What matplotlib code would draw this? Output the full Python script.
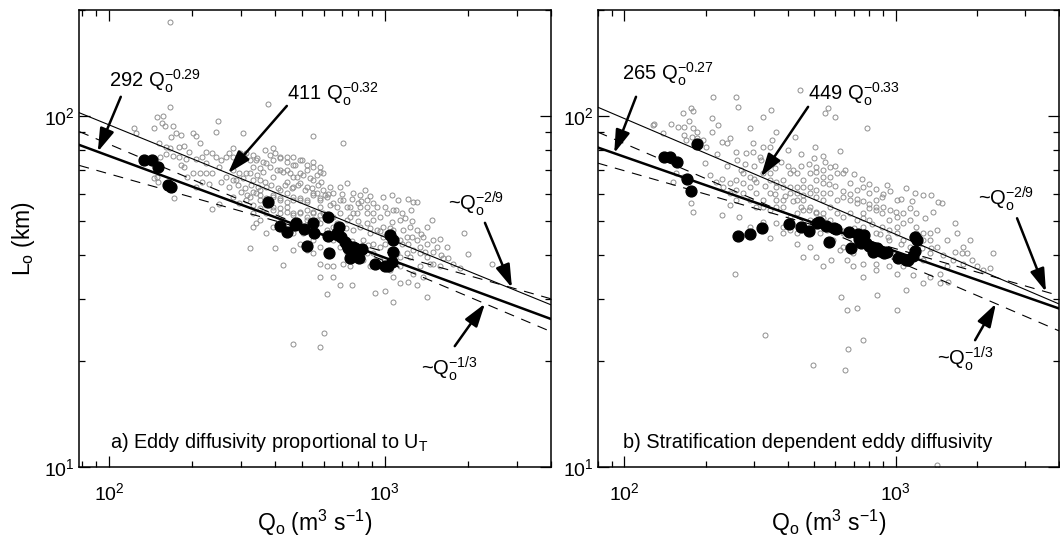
"""
Two log-log panels: eddy length scale L_o against discharge Q_o,
model runs (open grey circles) and observations (black dots),
with fitted power laws and the ~Q^-2/9, ~Q^-1/3 reference slopes.
"""
import numpy as np
import matplotlib
matplotlib.use("Agg")
import matplotlib.pyplot as plt
from matplotlib.ticker import LogLocator, NullFormatter

plt.rcParams["font.family"] = ["Liberation Sans", "DejaVu Sans"]
plt.rcParams["mathtext.fontset"] = "custom"
plt.rcParams["mathtext.rm"] = "Liberation Sans"
plt.rcParams["mathtext.it"] = "Liberation Sans:italic"
plt.rcParams["mathtext.bf"] = "Liberation Sans:bold"

# ----------------------------- data (Q in m3/s, L in km) -----------------------------
model_a = [
    (166, 185), (377, 108), (123, 92), (125, 89), (145, 92), (149, 99), (157, 100), (166, 106),
    (156, 95.5), (159, 93.5), (170, 93.5), (175, 89), (182, 88), (168, 87), (152, 83.4), (161, 81.6),
    (166, 80.7), (180, 81.6), (187, 82), (195, 78.9), (201, 89), (207, 87.5), (213, 83.4), (224, 78.9),
    (237, 78.5), (248, 96.8), (245, 90), (306, 89.4), (282, 80.7), (273, 78.1), (265, 76.4), (255, 74.7),
    (218, 76.4), (207, 75.5), (190, 75.5), (180, 76.4), (170, 76.8), (161, 77.7), (153, 76.4), (149, 67),
    (145, 66.3), (151, 64.9), (172, 58.4), (237, 54.1), (251, 56), (213, 68.5), (224, 68.5), (237, 68.5),
    (201, 68.8), (187, 71.6), (182, 72.3), (192, 67), (207, 62.8), (218, 64.9), (231, 64), (255, 64.9),
    (265, 67), (282, 70), (273, 62.8), (289, 65.6), (301, 60.8), (314, 68.5), (333, 77.2), (342, 74.7),
    (367, 79.8), (393, 80.7), (372, 73.1), (352, 70.8), (333, 65.6), (324, 58.8), (342, 60.1), (372, 62.8),
    (393, 67), (416, 70), (440, 76.4), (465, 76.4), (471, 72.3), (499, 74.7), (492, 68.5), (520, 70),
    (550, 71.6), (581, 69.3), (589, 64.9), (550, 65.6), (520, 62.8), (465, 62.8), (440, 64.9), (416, 61.4),
    (393, 58.8), (372, 56.3), (352, 57.5), (333, 52.8), (342, 49.4), (372, 46.4), (324, 42.1), (398, 42.1),
    (428, 37.5), (465, 46.2), (492, 52.8), (520, 57.5), (565, 60.1), (598, 61.4), (632, 62.8), (650, 60.1),
    (687, 62.8), (727, 64.2), (768, 60.1), (812, 59.4), (846, 61.4), (858, 57.5), (801, 56.3), (747, 55.1),
    (707, 57.5), (668, 55.1), (632, 55.7), (581, 55.1), (550, 52.8), (520, 50.5), (581, 49.4), (615, 47.2),
    (650, 51.6), (687, 52.8), (747, 51.6), (790, 52.8), (858, 55.1), (907, 56.3), (986, 58.8), (1058, 59.4),
    (1117, 57.5), (1215, 57.8), (1266, 56.9), (1302, 56.6), (1240, 53.9), (1149, 52.8), (1072, 53.9),
    (1014, 52.8), (959, 51.6), (907, 50.5), (858, 49.4), (812, 48.3), (768, 47.2), (933, 47.2), (986, 48.3),
    (1058, 49.9), (1133, 50.5), (1232, 48.3), (1302, 47.2), (1416, 48.3), (1476, 50.5), (1497, 44.2),
    (1583, 44.4), (1673, 42.3), (1539, 42.3), (1416, 43.2), (1302, 44.2), (1215, 43.2), (1133, 44.2),
    (1072, 44.2), (986, 45.2), (959, 42.3), (907, 43.2), (870, 42.8), (907, 40.5), (959, 38.8), (1014, 37.9),
    (1133, 39.6), (1198, 40.5), (1266, 41.4), (1339, 40.5), (1416, 39.6), (1497, 37.9), (1627, 39.2),
    (1697, 39.4), (1583, 37.2), (1456, 37.9), (1339, 37.2), (1266, 35.5), (1133, 37.2), (1072, 34.8),
    (1043, 36.3), (959, 37.2), (882, 37.2), (835, 38.8), (747, 37.2), (707, 37.9), (650, 37.2), (615, 37.2),
    (581, 37.9), (550, 40.5), (520, 41.4), (492, 43.2), (465, 41.4), (581, 34.8), (650, 34.8), (687, 32.9),
    (757, 32.9), (920, 31.2), (1000, 31.6), (1072, 29.5), (1133, 33.3), (1215, 33.6), (1302, 32.9),
    (1416, 30.5), (1377, 34.8), (1770, 37.9), (1871, 36.8), (2003, 40.3), (1940, 46.4), (2440, 37.9),
    (615, 31), (600, 24.1), (581, 21.9), (465, 22.4), (707, 83.4), (550, 87.5),
    (282, 76.4), (297, 74.7), (314, 78.1), (333, 71.6), (352, 65.6), (297, 68.5), (282, 65.6), (251, 71.6),
    (245, 76.4), (224, 73.1), (393, 74.7), (416, 76.4), (440, 70), (465, 67), (492, 64.2), (440, 60.1),
    (416, 57.5), (393, 55.1), (372, 52.8), (352, 61.4), (314, 57.5), (297, 56.3), (282, 58.8), (550, 60.1),
    (581, 57.5), (615, 58.8), (650, 56.3), (687, 57.5), (727, 55.1), (768, 52.8), (812, 55.1), (858, 52.8),
    (907, 52.8), (727, 50.5), (668, 49.4), (632, 51.6), (598, 52.8), (565, 50.5), (535, 48.3), (506, 46.2),
    (550, 44.2), (581, 42.3), (650, 44.2), (687, 42.3), (727, 40.5), (790, 39.6), (858, 40.5), (835, 44.2),
    (882, 46.2), (1014, 46.2), (1072, 47.2), (1165, 47.2), (1198, 45.2), (1043, 41.4), (1102, 40.5),
    (1339, 42.3), (1377, 45.2), (1232, 39.6), (465, 57.5), (492, 57.5), (440, 55.1), (416, 52.8),
    (465, 52.8), (520, 53.9), (650, 48.3), (393, 48.3), (428, 50.5), (352, 50.5), (333, 48.3),
    (298, 78.1), (308, 77.3), (290, 74.0), (324, 74.8), (343, 75.6), (362, 74.0), (383, 77.3), (399, 78.1),
    (416, 75.6), (440, 74.0), (466, 72.3), (492, 74.8), (520, 72.3), (550, 74.0), (581, 71.6), (598, 68.5),
    (565, 67.8), (535, 66.3), (506, 67.8), (479, 67.0), (452, 68.5), (428, 69.2), (405, 70.0), (383, 71.6),
    (362, 69.2), (343, 67.8), (324, 68.5), (306, 66.3), (294, 63.5), (310, 62.1), (328, 63.5), (348, 62.8),
    (367, 64.9), (388, 63.5), (410, 62.1), (434, 63.5), (459, 62.1), (485, 63.5), (513, 61.4), (542, 62.1),
    (573, 63.5), (606, 59.4), (581, 58.1), (550, 59.4), (520, 56.9), (492, 58.1), (466, 58.7), (440, 56.9),
    (416, 58.1), (394, 59.4), (372, 58.1), (352, 59.4), (333, 60.8), (315, 59.4), (333, 55.6), (352, 54.5),
    (372, 55.6), (394, 53.8), (416, 54.5), (440, 53.2), (466, 52.1), (492, 53.2), (520, 51.5), (550, 53.2),
    (581, 52.1), (614, 51.0), (620, 60), (700, 60), (760, 58), (820, 57), (880, 59), (940, 55), (1000, 55),
    (1100, 54), (1180, 51), (1250, 50), (1350, 46), (640, 45), (720, 48), (800, 50), (880, 48), (960, 47),
    (1040, 48), (1150, 43), (1250, 45), (1400, 41), (1500, 41), (1600, 40), (760, 44), (840, 42), (1000, 43),
]

obs_a = [
    (134, 74.8), (143, 74.8), (151, 71.6), (163, 63.5), (168, 62.7), (378, 56.9), (416, 48.5), (442, 46.5),
    (472, 48.7), (475, 49.6), (508, 47.5), (547, 49.6), (555, 46.3), (523, 42.6), (623, 51.4), (623, 45.4),
    (628, 40.5), (668, 46.3), (683, 48.3), (696, 45.1), (716, 43.8), (726, 42.8), (736, 41.9), (747, 39.2),
    (757, 41.4), (767, 42.3), (778, 41.9), (789, 41.0), (807, 39.2), (823, 41.6), (920, 37.8), (1000, 37.2),
    (1028, 37.4), (1043, 45.7), (1066, 44.3), (1072, 41.0), (1058, 38.4),
]

model_b = [
    (128, 94.2), (129, 95), (139, 89.1), (149, 94.7), (158, 93.1), (166, 93.1), (165, 102), (177, 105),
    (179, 103), (174, 96.8), (179, 92), (185, 90), (166, 88), (169, 85.3), (178, 87.2), (186, 86.2),
    (190, 84.3), (195, 85.3), (201, 81.6), (213, 113), (211, 98.3), (222, 94.2), (210, 90), (229, 84.3),
    (245, 86.2), (259, 113), (262, 106), (239, 83.4), (259, 78.9), (282, 78.1), (298, 78.9), (316, 76.4),
    (325, 99.4), (349, 103.5), (364, 90), (426, 87.2), (444, 118), (565, 105), (549, 101.5), (597, 99.4),
    (626, 79.4), (504, 81.6), (541, 76.8), (788, 92), (290, 92), (298, 83.4), (325, 81.6), (344, 81.6),
    (151, 64.9), (165, 67), (155, 68.5), (177, 56.3), (179, 53.3), (198, 73.1), (207, 67.6), (219, 64.9),
    (232, 62.8), (245, 60.1), (259, 65.6), (274, 68.5), (290, 67), (307, 64.9), (325, 68.5), (344, 68.5),
    (364, 64.9), (385, 62.8), (408, 60.1), (432, 57.5), (457, 59.4), (483, 62.8), (511, 65.6), (541, 64.2),
    (573, 67), (606, 68.5), (641, 68.5), (679, 64.2), (718, 61.4), (760, 62.8), (797, 60.1), (844, 57.5),
    (893, 58.8), (933, 63.5), (1008, 57.5), (1097, 62.1), (1177, 60.4), (1264, 59.4), (1356, 59.4),
    (1436, 56.9), (1478, 56.3), (1376, 53.3), (1282, 51.1), (1194, 52.8), (1128, 54.5), (1066, 52.8),
    (1008, 51.6), (945, 50.5), (893, 52.8), (844, 53.9), (797, 54.5), (760, 52.8), (718, 56.3), (679, 57.5),
    (641, 58.8), (606, 57.5), (573, 60.1), (541, 57.5), (511, 58.8), (483, 55.1), (457, 53.9), (432, 52.8),
    (408, 51.6), (385, 55.1), (364, 57.5), (344, 60.1), (325, 57.5), (307, 55.1), (290, 57.5), (274, 60.1),
    (259, 57.5), (245, 55.7), (229, 52.2), (266, 51.6), (290, 48.3), (325, 49.9), (344, 44.7), (385, 46.2),
    (432, 43.2), (457, 39.6), (497, 48.3), (526, 46.2), (557, 47.2), (589, 44.2), (623, 41.4), (660, 38.8),
    (698, 37.2), (760, 34.8), (844, 37.9), (893, 41.4), (945, 44.2), (1008, 46.2), (1066, 44.2), (1128, 42.3),
    (1194, 40.5), (1264, 38.8), (1337, 40.5), (1416, 42.3), (1541, 44.2), (1654, 49.4), (1678, 46.2),
    (1775, 42.3), (1878, 44.2), (1905, 38.8), (1750, 40.5), (1631, 38.8), (1541, 37.2), (1457, 35.5),
    (1337, 34.8), (1264, 33.3), (1097, 31.9), (1161, 35.1), (1066, 37.2), (1008, 35.5), (945, 37.2),
    (844, 36.3), (760, 37.9), (698, 40.5), (641, 42.3), (580, 38.8), (541, 37.2), (511, 39.6), (483, 42.3),
    (432, 46.2), (408, 47.2), (385, 48.3), (364, 49.4), (1988, 37.2), (2104, 36.3), (2226, 36.8),
    (2289, 40.5), (1457, 33.3), (1563, 33.6), (1775, 37.9), (1826, 40.5), (1008, 27.9), (856, 30.9),
    (660, 27.9), (631, 30.5), (718, 28.3), (330, 23.7), (256, 35.5), (760, 22.9), (667, 21.7), (497, 19.5),
    (650, 18.9), (1416, 10.1),
    (344, 65.6), (364, 62.8), (385, 65.6), (408, 68.5), (432, 68.5), (457, 65.6), (483, 68.5), (511, 71.6),
    (541, 70), (573, 71.6), (408, 62.8), (432, 62.8), (457, 62.8), (483, 60.1), (511, 61.4), (541, 60.1),
    (573, 55.1), (606, 52.8), (641, 51.6), (679, 52.8), (718, 50.5), (760, 48.3), (797, 50.5), (844, 46.2),
    (893, 48.3), (945, 47.2), (1008, 48.3), (1066, 49.4), (1128, 50.5), (1194, 48.3), (1264, 46.2),
    (1337, 46.2), (1416, 47.2), (1264, 44.2), (1194, 46.2), (1337, 44.2), (679, 46.2), (641, 46.2),
    (573, 50.5), (541, 52.8), (511, 52.8), (483, 50.5), (457, 57.5), (432, 60.1), (385, 57.5), (364, 55.1),
    (344, 53.9), (325, 55.1), (307, 60.1), (290, 62.8), (274, 64.2), (259, 61.4), (245, 64.2),
    (260, 75), (280, 73), (300, 72), (320, 75), (340, 73), (360, 71), (380, 74), (400, 72), (420, 70),
    (450, 72), (480, 73), (510, 69), (540, 67), (570, 64), (600, 63), (640, 61), (680, 60), (720, 58),
    (760, 57), (800, 56), (850, 55), (900, 55), (950, 54), (1000, 53), (270, 70), (300, 66), (330, 63),
    (360, 60), (390, 59), (420, 57), (450, 55), (480, 54), (510, 53), (540, 51), (570, 49), (600, 48),
    (640, 47), (700, 48), (760, 51), (820, 49), (880, 46), (940, 45), (1050, 43), (1150, 45), (1250, 42),
    (1350, 42), (1500, 40), (1650, 41), (220, 78), (240, 72), (230, 66), (350, 85), (400, 80), (450, 78),
    (500, 76), (550, 74), (600, 72), (650, 70), (700, 68), (750, 66), (800, 64), (850, 62), (900, 60),
    (950, 61), (1050, 58), (1150, 57),
]

obs_b = [
    (140, 76.4), (148, 76.4), (157, 73.9), (170, 65.9), (176, 61.1), (186, 83.0), (262, 45.4), (291, 46.0),
    (323, 47.9), (404, 49.1), (448, 48.1), (479, 47.0), (514, 49.6), (523, 49.8), (552, 48.5), (569, 43.6),
    (594, 48.0), (603, 47.5), (675, 46.7), (684, 41.9), (728, 46.0), (734, 44.5), (743, 43.5), (764, 45.6),
    (781, 43.4), (799, 42.6), (816, 42.2), (827, 40.9), (851, 41.9), (875, 41.2), (906, 40.5), (931, 40.8),
    (1017, 39.2), (1112, 38.9), (1155, 39.8), (1178, 41.2), (1178, 45.2), (1195, 44.3), (1092, 38.8),
]

# power laws L = c * Q**p : (c, p)
fit_model_a, fit_obs_a = (411, -0.32), (292, -0.29)
fit_model_b, fit_obs_b = (449, -0.33), (265, -0.27)
ref_a = [(190, -2 / 9), (385, -1 / 3)]
ref_b = [(194, -2 / 9), (387, -1 / 3)]

PANEL_A = "a) Eddy diffusivity proportional to U$_\\mathrm{T}$"
PANEL_B = "b) Stratification dependent eddy diffusivity"


def label(c, p):
    return f"{c} $\\mathrm{{Q_o^{{{p:.2f}}}}}$"


def arrow(ax, tip_q, fit, tail):
    c, p = fit
    ax.annotate("", xy=(tip_q, c * tip_q ** p), xycoords="data",
                xytext=tail, textcoords="axes fraction",
                arrowprops=dict(arrowstyle="-|>,head_length=0.7,head_width=0.22",
                                mutation_scale=20, lw=1.8, color="k",
                                shrinkA=0, shrinkB=0), zorder=6)


def draw_panel(ax, xlim, model, obs, fit_m, fit_o, refs, ann, title):
    q = np.geomspace(xlim[0], xlim[1], 100)
    mq, ml = zip(*model)
    oq, ol = zip(*obs)
    ax.plot(mq, ml, "o", ms=3.6, mfc="none", mec="#8f8f8f", mew=0.7, zorder=2)
    ax.plot(q, fit_m[0] * q ** fit_m[1], color="k", lw=0.8, zorder=3)
    ax.plot(q, fit_o[0] * q ** fit_o[1], color="k", lw=1.8, zorder=3)
    for c, p in refs:
        ax.plot(q, c * q ** p, color="k", lw=0.8, ls=(0, (9, 7)), zorder=3)
    ax.plot(oq, ol, "o", ms=7.8, color="k", zorder=4)

    ax.set_xscale("log"); ax.set_yscale("log")
    ax.set_xlim(*xlim); ax.set_ylim(10, 200)
    ax.xaxis.set_major_locator(LogLocator(10))
    ax.yaxis.set_major_locator(LogLocator(10))
    ax.xaxis.set_minor_locator(LogLocator(10, subs=np.arange(2, 10)))
    ax.yaxis.set_minor_locator(LogLocator(10, subs=np.arange(2, 10)))
    ax.xaxis.set_minor_formatter(NullFormatter())
    ax.yaxis.set_minor_formatter(NullFormatter())
    ax.tick_params(which="both", direction="in", top=True, right=True, width=0.9, labelsize=14)
    ax.tick_params(which="major", length=8)
    ax.tick_params(which="minor", length=4.5)
    ax.tick_params(axis="x", which="major", pad=11)
    ax.tick_params(axis="y", which="major", pad=3)
    for s in ax.spines.values():
        s.set_linewidth(1.1)

    ax.set_xlabel("Q$_\\mathrm{o}$ (m$^\\mathrm{3}$ s$^\\mathrm{-1}$)", fontsize=16.5)
    ax.xaxis.set_label_coords(0.5, -0.09)

    # fit labels and arrows
    (t1, a1, q1), (t2, a2, q2), (t3, a3, q3), (t4, a4, q4) = ann
    fs = 14.5
    ax.text(*t1, label(*fit_o), fontsize=fs, zorder=1, transform=ax.transAxes)
    arrow(ax, q1, fit_o, a1)
    ax.text(*t2, label(*fit_m), fontsize=fs, zorder=1, transform=ax.transAxes)
    arrow(ax, q2, fit_m, a2)
    ax.text(*t3, "~$\\mathrm{Q_o^{-2/9}}$", fontsize=fs, zorder=1, transform=ax.transAxes)
    arrow(ax, q3, refs[0], a3)
    ax.text(*t4, "~$\\mathrm{Q_o^{-1/3}}$", fontsize=fs, zorder=1, transform=ax.transAxes)
    arrow(ax, q4, refs[1], a4)
    ax.text(t1[0] + 0.002, 0.041, title, fontsize=14.3, transform=ax.transAxes)


fig = plt.figure(figsize=(10.6, 5.36), dpi=100)
ax1 = fig.add_axes([0.0748, 0.1293, 0.445, 0.852])
ax2 = fig.add_axes([0.5639, 0.1293, 0.4352, 0.852])

draw_panel(ax1, (78, 4000), model_a, obs_a, fit_model_a, fit_obs_a, ref_a,
           [((0.063, 0.831), (0.088, 0.810), 91),
            ((0.440, 0.803), (0.440, 0.790), 270),
            ((0.782, 0.562), (0.860, 0.534), 2888),
            ((0.725, 0.201), (0.796, 0.264), 2306)],
           PANEL_A)
draw_panel(ax2, (80, 4000), model_b, obs_b, fit_model_b, fit_obs_b, ref_b,
           [((0.053, 0.847), (0.083, 0.810), 92),
            ((0.456, 0.803), (0.456, 0.788), 319),
            ((0.825, 0.573), (0.909, 0.544), 3581),
            ((0.736, 0.222), (0.818, 0.277), 2342)],
           PANEL_B)

ax1.set_ylabel("L$_\\mathrm{o}$ (km)", fontsize=16.5)
ax1.yaxis.set_label_coords(-0.09, 0.5)

fig.savefig("out.png", dpi=100)
